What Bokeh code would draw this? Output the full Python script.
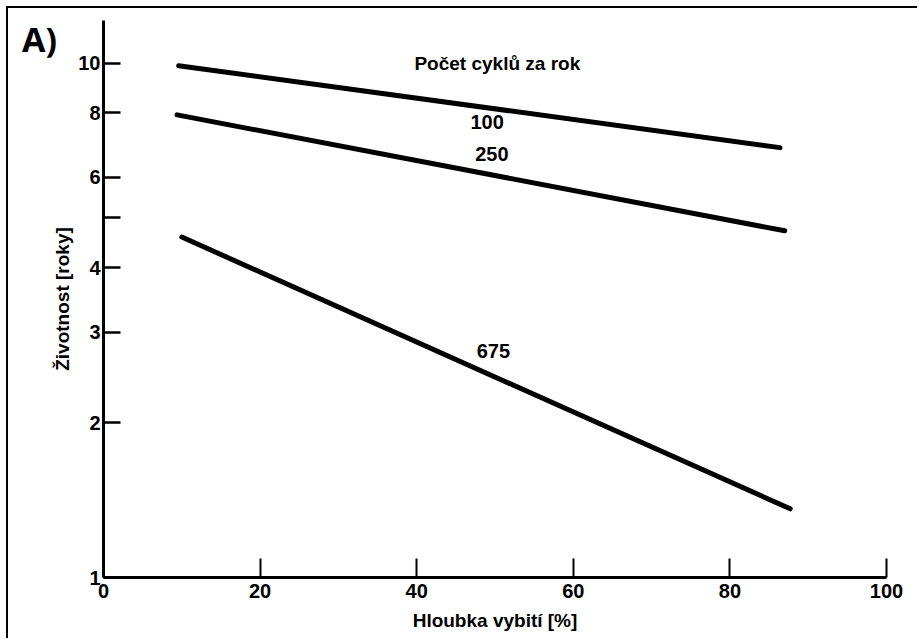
from bokeh.plotting import figure
from bokeh.models import Range1d, FixedTicker, Label, ColumnDataSource, BasicTickFormatter, Div
from bokeh.layouts import column
from bokeh.core.properties import value
from bokeh.embed import file_html
from bokeh.resources import INLINE

# ---- data ----
depth_100 = [9.6, 86.4]
life_100 = [9.88, 6.85]
depth_250 = [9.4, 87.0]
life_250 = [7.93, 4.72]
depth_675 = [10.0, 87.7]
life_675 = [4.59, 1.36]

series_labels = ["100", "250", "675"]
series_label_x = [49.0, 49.6, 49.8]
series_label_y = [7.69, 6.67, 2.76]

legend_title = "Počet cyklů za rok"
legend_title_x = 50.3
legend_title_y = 10.0

x_ticks = [0, 20, 40, 60, 80, 100]
y_ticks = [1, 2, 3, 4, 5, 6, 8, 10]
y_tick_labels = ["1", "2", "3", "4", "", "6", "8", "10"]

x_title = "Hloubka vybití [%]"
y_title = "Životnost [roky]"
panel_tag = "A)"

FONT = "Liberation Sans"

p = figure(width=911, height=632, x_range=Range1d(0, 100), y_range=Range1d(1.0, 12.1),
           y_axis_type="log", output_backend="svg", toolbar_location=None,
           min_border_left=95, min_border_right=33, min_border_top=12, min_border_bottom=63)
p.styles = {"position": "relative", "left": "8px", "top": "8px",
            "box-shadow": "-2px -2px 0 0 black"}
p.outline_line_color = None
p.xgrid.visible = False
p.ygrid.visible = False
p.background_fill_color = "white"
p.border_fill_color = "white"

for ax in (p.xaxis, p.yaxis):
    ax.axis_line_width = 3
    ax.axis_line_color = "black"
    ax.major_tick_line_color = "black"
    ax.major_tick_line_width = 2
    ax.major_tick_out = 0
    ax.minor_tick_line_color = None
    ax.major_label_text_font = FONT
    ax.major_label_text_font_style = "bold"
    ax.major_label_text_font_size = "20px"
    ax.major_label_text_color = "black"
    ax.axis_label_text_font = FONT
    ax.axis_label_text_font_style = "bold"
    ax.axis_label_text_font_size = "19px"
    ax.axis_label_text_color = "black"

p.xaxis.ticker = FixedTicker(ticks=x_ticks)
p.xaxis.major_tick_in = 19
p.xaxis.major_label_standoff = 6
p.xaxis.axis_label = x_title
p.xaxis.axis_label_standoff = 9

p.yaxis.ticker = FixedTicker(ticks=y_ticks)
p.yaxis.formatter = BasicTickFormatter()
p.yaxis.major_label_overrides = {t: lab for t, lab in zip(y_ticks, y_tick_labels)}
p.yaxis.major_tick_in = 17
p.yaxis.major_tick_line_width = 2.5
p.yaxis.major_label_standoff = 3
p.yaxis.axis_label = y_title
p.yaxis.axis_label_standoff = 2

for xs, ys in ((depth_100, life_100), (depth_250, life_250), (depth_675, life_675)):
    p.line(xs, ys, line_width=5, line_color="black", line_cap="round")

src = ColumnDataSource(dict(x=series_label_x, y=series_label_y, text=series_labels))
p.text(x="x", y="y", text="text", source=src, text_font=value(FONT), text_font_style="bold",
       text_font_size="20px", text_align="center", text_baseline="middle", text_color="black")

p.add_layout(Label(x=legend_title_x, y=legend_title_y, text=legend_title, text_font=FONT,
                   text_font_style="bold", text_font_size="19px", text_align="center",
                   text_baseline="middle", text_color="black"))

tag = Div(text=panel_tag, styles={"position": "absolute", "left": "17px", "top": "17px",
                                  "font-family": "Open Sans", "font-weight": "bold",
                                  "font-size": "34px", "line-height": "1", "color": "black",
                                  "z-index": "10"})

root = column(p, tag)
open("out.html", "w").write(file_html(root, INLINE))
